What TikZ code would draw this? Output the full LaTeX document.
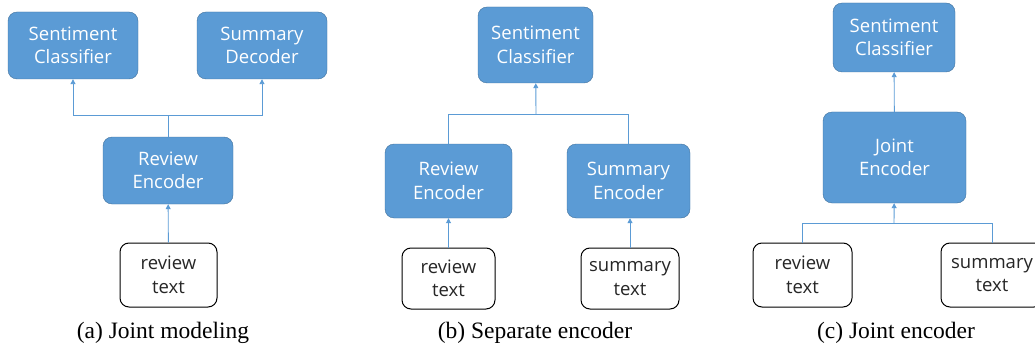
\documentclass[tikz,border=0pt]{standalone}
\usepackage{fontspec}
\setmainfont{Liberation Serif}
\newfontfamily\boxfont{Open Sans}
\usetikzlibrary{arrows.meta,positioning}

\definecolor{boxblue}{HTML}{5B9BD5}
\definecolor{boxedge}{HTML}{41719C}
\definecolor{linkblue}{HTML}{5B9BD5}

\begin{document}
\begin{tikzpicture}[x=1pt,y=-1pt,
    blk/.style={draw=boxedge, fill=boxblue, rounded corners=9pt, text=white, align=center,
                font={\boxfont\fontsize{18.5}{23.5}\selectfont}, inner sep=0pt},
    txt/.style={draw=black, line width=1pt, fill=white, rounded corners=9pt, text=black!85, align=center,
                font={\boxfont\fontsize{18.5}{23.5}\selectfont}, inner sep=0pt,
                minimum height=62pt},
    link/.style={draw=linkblue, line width=0.9pt},
    arr/.style={link, -{Triangle[length=5pt,width=5pt]}},
    subcap/.style={font=\fontsize{23.5}{26}\selectfont}]
        \clip (0,0) rectangle (1035,350);

        % (a) joint modeling
        \node[blk, minimum width=130pt, minimum height=67pt] at (73,45.5) (sentA) {Sentiment\\Classifier};
        \node[blk, minimum width=130pt, minimum height=67pt] at (262,45.5) (decA) {Summary\\Decoder};
        \node[blk, minimum width=130pt, minimum height=67pt] at (168,170.5) (encA) {Review\\Encoder};
        \node[txt, minimum width=97pt, minimum height=64pt] at (168.5,275) (revA) {review\\text};
        \coordinate (jA) at (168,115);
        \draw[link] (encA.north) -- (jA);
        \draw[arr] (jA) -| (sentA);
        \draw[arr] (jA) -| (decA);
        \draw[arr] (revA) -- (encA);
        \node[subcap] at (163,333) (capA) {(a) Joint modeling};

        % (b) separate encoder
        \node[blk, minimum width=115pt, minimum height=76pt] at (535.5,45) (sentB) {Sentiment\\Classifier};
        \node[blk, minimum width=127pt, minimum height=74pt] at (448.5,181) (revencB) {Review\\Encoder};
        \node[blk, minimum width=123pt, minimum height=74pt] at (628.5,181) (sumencB) {Summary\\Encoder};
        \node[txt, minimum width=93pt, minimum height=61pt] at (448.5,278.5) (revB) {review\\text};
        \node[txt, minimum width=98pt, minimum height=61pt] at (630,278.5) (sumB) {summary\\text};
        \coordinate (jB) at (536,114);
        \draw[link] (revencB.north) |- (jB);
        \draw[link] (sumencB.north) |- (jB);
        \draw[arr] (jB) -- (sentB);
        \draw[arr] (revB) -- (revencB);
        \draw[arr] (sumB) -- (sumB |- sumencB.south);
        \node[subcap] at (535,333) (capB) {(b) Separate encoder};

        % (c) joint encoder
        \node[blk, minimum width=122pt, minimum height=69pt] at (894,37.5) (sentC) {Sentiment\\Classifier};
        \node[blk, minimum width=143pt, minimum height=91pt] at (894.5,157.5) (encC) {Joint\\Encoder};
        \node[txt, minimum width=99pt, minimum height=64pt] at (802.5,275) (revC) {review\\text};
        \node[txt, minimum width=102pt, minimum height=64pt] at (992,275) (sumC) {summary\\text};
        \coordinate (jC) at (894,223);
        \draw[link] (revC.north) |- (jC);
        \draw[link] (sumC.north) |- (jC);
        \draw[arr] (jC) -- (encC);
        \draw[arr] (encC) -- (sentC);
        \node[subcap] at (896,333) (capC) {(c) Joint encoder};
\end{tikzpicture}
\end{document}
